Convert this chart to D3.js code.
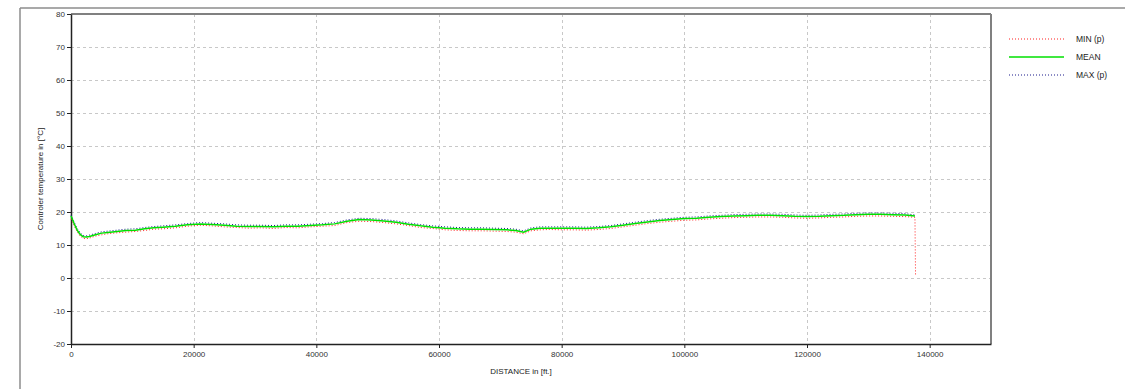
<!DOCTYPE html>
<html>
<head>
<meta charset="utf-8">
<script src="https://cdn.jsdelivr.net/npm/d3@7"></script>
<style>
  body { margin: 0; background: #fff; }
  text { font-family: "Liberation Sans", Arial, sans-serif; }
</style>
</head>
<body>
<div id="chart"></div>
<script>
// distance in ft.
var distance = [0, 500, 1000, 1500, 2000, 2500, 3000, 4000, 5000, 6000, 7500, 9000, 10500, 12000, 13500, 15000,
  17000, 19000, 21000, 23000, 25000, 27000, 29000, 31000, 33000, 35000, 37000, 39000, 41000, 43000, 45000,
  47000, 49000, 51000, 53000, 55000, 57000, 59000, 61000, 63000, 65000, 67000, 69000, 71000, 72500, 73800,
  75000, 76500, 78000, 80000, 82000, 84000, 86000, 88000, 90000, 92000, 94000, 96000, 98000, 100000,
  102000, 104000, 106000, 108000, 110000, 112000, 114000, 116000, 118000, 120000, 122000, 124000, 126000,
  128000, 130000, 132000, 134000, 136000, 137600, 137700];

var meanTemp = [18.8, 16.5, 14.5, 13.2, 12.5, 12.4, 12.6, 13.1, 13.6, 13.8, 14.1, 14.4, 14.5, 14.9, 15.2, 15.4,
  15.7, 16.1, 16.4, 16.2, 16.0, 15.7, 15.6, 15.6, 15.5, 15.7, 15.7, 15.9, 16.1, 16.4, 17.2,
  17.7, 17.6, 17.3, 16.9, 16.3, 15.8, 15.4, 15.1, 14.9, 14.8, 14.8, 14.7, 14.6, 14.4, 13.9,
  14.8, 15.1, 15.1, 15.1, 15.1, 15.0, 15.2, 15.5, 16.0, 16.5, 17.0, 17.4, 17.7, 18.0,
  18.1, 18.4, 18.6, 18.8, 18.9, 19.0, 19.0, 18.9, 18.7, 18.6, 18.7, 18.9, 19.0,
  19.2, 19.3, 19.3, 19.2, 19.1, 18.8, null];

var minTemp = [17.9, 15.9, 14.0, 12.7, 12.0, 11.9, 12.1, 12.7, 13.1, 13.4, 13.7, 13.9, 14.1, 14.4, 14.8, 14.9,
  15.2, 15.7, 16.0, 15.8, 15.5, 15.3, 15.1, 15.2, 15.0, 15.3, 15.2, 15.5, 15.7, 15.9, 16.8,
  17.2, 17.1, 16.8, 16.4, 15.9, 15.3, 15.0, 14.6, 14.4, 14.3, 14.3, 14.2, 14.1, 13.9, 13.4,
  14.3, 14.6, 14.7, 14.6, 14.6, 14.5, 14.7, 15.0, 15.5, 16.0, 16.5, 16.9, 17.2, 17.5,
  17.6, 17.9, 18.1, 18.3, 18.4, 18.5, 18.5, 18.4, 18.2, 18.1, 18.2, 18.4, 18.5,
  18.7, 18.8, 18.8, 18.7, 18.6, 18.4, 0.5];

var maxTemp = [19.1, 17.0, 15.0, 13.7, 12.9, 12.8, 13.0, 13.5, 14.0, 14.2, 14.5, 14.8, 14.9, 15.3, 15.6, 15.8,
  16.1, 16.5, 16.8, 16.6, 16.4, 16.1, 16.0, 16.0, 15.9, 16.1, 16.1, 16.3, 16.5, 16.8, 17.6,
  18.1, 18.0, 17.7, 17.3, 16.7, 16.2, 15.8, 15.5, 15.3, 15.2, 15.2, 15.1, 15.0, 14.8, 14.3,
  15.2, 15.5, 15.5, 15.5, 15.5, 15.4, 15.6, 15.9, 16.4, 16.9, 17.4, 17.8, 18.1, 18.4,
  18.5, 18.8, 19.0, 19.2, 19.3, 19.4, 19.4, 19.3, 19.1, 19.0, 19.1, 19.3, 19.4,
  19.6, 19.7, 19.7, 19.6, 19.5, 19.1, null];

var xTicks = [0, 20000, 40000, 60000, 80000, 100000, 120000, 140000];
var yTicks = [-20, -10, 0, 10, 20, 30, 40, 50, 60, 70, 80];
var seriesNames = ["MIN (p)", "MEAN", "MAX (p)"];

var W = 1125, H = 389;
var margin = {top: 14, right: 134, bottom: 45, left: 71};
var width = W - margin.left - margin.right;
var height = H - margin.top - margin.bottom;

var svg = d3.select("#chart").append("svg")
  .attr("width", W)
  .attr("height", H);

// outer frame
svg.append("line").attr("x1", 20).attr("x2", W).attr("y1", 8).attr("y2", 8)
  .style("stroke", "#8c8c8c").style("stroke-width", 1.5);
svg.append("line").attr("x1", 20).attr("x2", 20).attr("y1", 8).attr("y2", H)
  .style("stroke", "#8c8c8c").style("stroke-width", 1.5);

var g = svg.append("g")
  .attr("transform", "translate(" + margin.left + "," + margin.top + ")");

var x = d3.scaleLinear().domain([0, 150000]).range([0, width]);
var y = d3.scaleLinear().domain([-20, 80]).range([height, 0]);

// grid
g.selectAll(".vgrid").data(xTicks.slice(1)).enter().append("line")
  .attr("x1", d => Math.round(x(d)) + 0.5).attr("x2", d => Math.round(x(d)) + 0.5)
  .attr("y1", 0).attr("y2", height)
  .style("stroke", "#c8c8c8").style("stroke-dasharray", "3,3");
g.selectAll(".hgrid").data(yTicks.slice(1, -1)).enter().append("line")
  .attr("x1", 0).attr("x2", width)
  .attr("y1", d => Math.round(y(d)) + 0.5).attr("y2", d => Math.round(y(d)) + 0.5)
  .style("stroke", "#c8c8c8").style("stroke-dasharray", "3,3");

// top and right border
g.append("line").attr("x1", 0).attr("x2", width).attr("y1", 0).attr("y2", 0)
  .style("stroke", "#808080").style("stroke-width", 2);
g.append("line").attr("x1", width).attr("x2", width).attr("y1", 0).attr("y2", height)
  .style("stroke", "#808080").style("stroke-width", 2);

// axes
var xAxis = g.append("g").attr("transform", "translate(0," + height + ")")
  .call(d3.axisBottom(x).tickValues(xTicks).tickSize(4).tickSizeOuter(0).tickPadding(3).tickFormat(d => String(d)));
var yAxis = g.append("g")
  .call(d3.axisLeft(y).tickValues(yTicks).tickSize(4).tickSizeOuter(0).tickPadding(2).tickFormat(d => String(d)));
[xAxis, yAxis].forEach(a => {
  a.select(".domain").style("stroke", "#222").style("stroke-width", 1.5);
  a.selectAll(".tick line").style("stroke", "#222");
  a.selectAll(".tick text").style("font-size", "8px").style("fill", "#333")
    .style("font-family", "'Liberation Sans', Arial, sans-serif");
});

// series
var line = d3.line()
  .defined(d => d[1] != null)
  .x(d => x(d[0]))
  .y(d => y(d[1]));

var series = [
  {name: seriesNames[0], values: minTemp, color: "#ff2020", dash: "1,2", w: 1},
  {name: seriesNames[2], values: maxTemp, color: "#1a1a8c", dash: "1,2", w: 1},
  {name: seriesNames[1], values: meanTemp, color: "#00e000", dash: null, w: 1.5}
];

series.forEach(s => {
  g.append("path")
    .datum(distance.map((d, i) => [d, s.values[i]]))
    .attr("d", line)
    .style("fill", "none")
    .style("stroke", s.color)
    .style("stroke-width", s.w)
    .style("stroke-dasharray", s.dash);
});

// axis titles
svg.append("text")
  .attr("x", margin.left + width / 2 - 10).attr("y", 374)
  .attr("text-anchor", "middle")
  .style("font-size", "8px").style("fill", "#222")
  .text("DISTANCE in [ft.]");
svg.append("text")
  .attr("transform", "translate(43," + (margin.top + height / 2) + ") rotate(-90)")
  .attr("text-anchor", "middle")
  .style("font-size", "8px").style("fill", "#222")
  .text("Controler temperature in [°C]");

// legend
var legend = [
  {name: seriesNames[0], color: "#ff2020", dash: "1,2", w: 1.2},
  {name: seriesNames[1], color: "#00e000", dash: null, w: 1.5},
  {name: seriesNames[2], color: "#1a1a8c", dash: "1,2", w: 1.2}
];
var lg = svg.selectAll(".leg").data(legend).enter().append("g")
  .attr("transform", (d, i) => "translate(1009," + (39 + i * 18) + ")");
lg.append("line").attr("x1", 0).attr("x2", 55).attr("y1", 0).attr("y2", 0)
  .style("stroke", d => d.color).style("stroke-width", d => d.w)
  .style("stroke-dasharray", d => d.dash);
lg.append("text").attr("x", 67).attr("y", 3)
  .style("font-size", "8.5px").style("fill", "#222")
  .text(d => d.name);
</script>
</body>
</html>
